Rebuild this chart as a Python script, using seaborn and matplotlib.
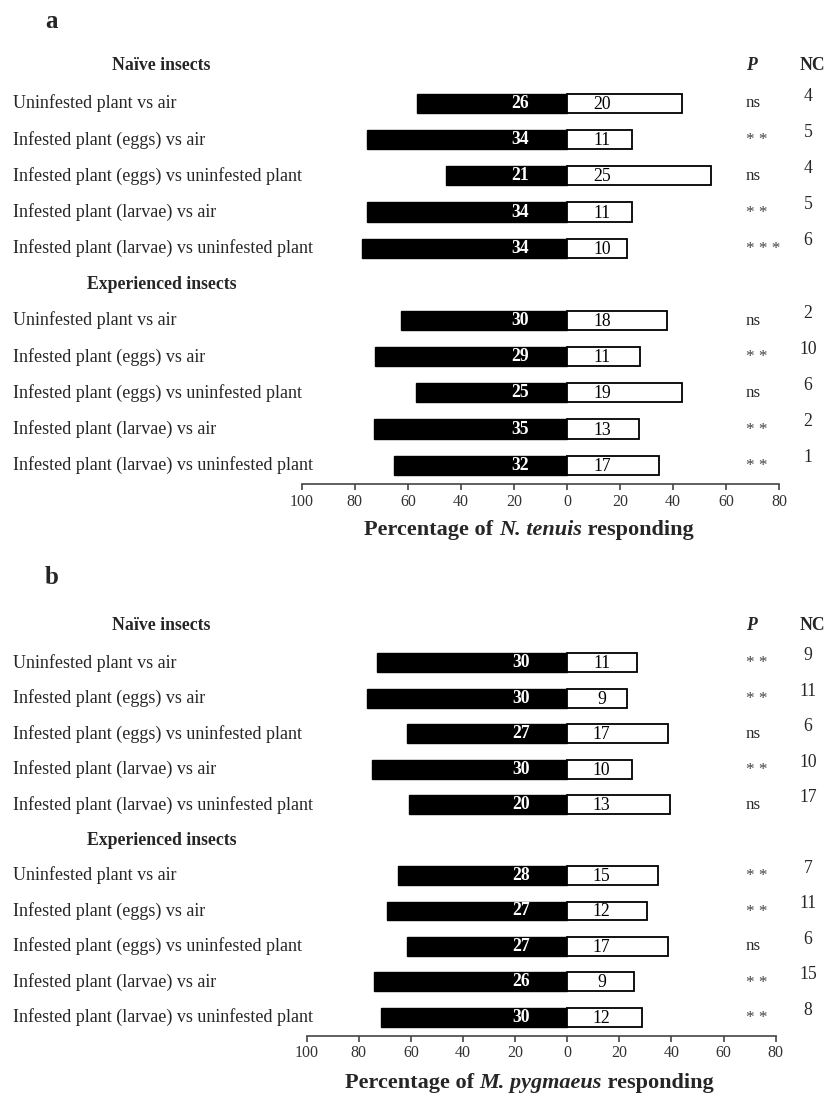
import pandas as pd
import seaborn as sns
import matplotlib.pyplot as plt

# Row labels (same for both panels)
row_labels = ['Uninfested plant vs air',
              'Infested plant (eggs) vs air',
              'Infested plant (eggs) vs uninfested plant',
              'Infested plant (larvae) vs air',
              'Infested plant (larvae) vs uninfested plant']

# Panel a: N. tenuis (counts choosing first / second odour source)
a_naive_first = [26, 34, 21, 34, 34]
a_naive_second = [20, 11, 25, 11, 10]
a_naive_p = ['ns', '**', 'ns', '**', '***']
a_naive_nc = [4, 5, 4, 5, 6]
a_exp_first = [30, 29, 25, 35, 32]
a_exp_second = [18, 11, 19, 13, 17]
a_exp_p = ['ns', '**', 'ns', '**', '**']
a_exp_nc = [2, 10, 6, 2, 1]

# Panel b: M. pygmaeus
b_naive_first = [30, 30, 27, 30, 20]
b_naive_second = [11, 9, 17, 10, 13]
b_naive_p = ['**', '**', 'ns', '**', 'ns']
b_naive_nc = [9, 11, 6, 10, 17]
b_exp_first = [28, 27, 27, 26, 30]
b_exp_second = [15, 12, 17, 9, 12]
b_exp_p = ['**', '**', 'ns', '**', '**']
b_exp_nc = [7, 11, 6, 15, 8]

xticks = [-100, -80, -60, -40, -20, 0, 20, 40, 60, 80]

sns.set_theme(style='white')
plt.rcParams['font.family'] = ['Liberation Serif', 'DejaVu Serif']

W, H = 827, 1099
fig = plt.figure(figsize=(W / 100, H / 100), dpi=100)
renderer = fig.canvas.get_renderer()

order = ['hn', 'n0', 'n1', 'n2', 'n3', 'n4', 'he', 'e0', 'e1', 'e2', 'e3', 'e4']


def make_df(nf, ns_, npv, nnc, ef, es, epv, enc):
    keys = ['n%d' % i for i in range(5)] + ['e%d' % i for i in range(5)]
    df = pd.DataFrame({'key': keys, 'first': nf + ef, 'second': ns_ + es,
                       'p': npv + epv, 'nc': nnc + enc,
                       'label': row_labels + row_labels})
    tot = df['first'] + df['second']
    df['left'] = -100 * df['first'] / tot
    df['right'] = 100 * df['second'] / tot
    df['pos'] = [order.index(k) for k in keys]
    return df


def xlabel_pieces(cx, cy, species):
    # bold label with the species name in bold italic, centred at (cx, cy) px
    parts = [('Percentage of ', 'normal'), (species, 'italic'), (' responding', 'normal')]
    texts = []
    for s, st in parts:
        t = fig.text(0, 1 - cy / H, s, ha='left', va='center', fontsize=16,
                     fontweight='bold', fontstyle=st)
        texts.append(t)
    widths = [t.get_window_extent(renderer).width for t in texts]
    x = cx - sum(widths) / 2
    for t, w in zip(texts, widths):
        t.set_x(x / W)
        x += w


def draw_panel(rect, df, letter, letter_y, species, xlabel_y):
    ax = fig.add_axes(rect)
    sns.barplot(data=df, x='left', y='key', order=order, color='black',
                saturation=1, width=0.53, edgecolor='black', linewidth=1,
                orient='h', ax=ax)
    sns.barplot(data=df, x='right', y='key', order=order, color='white',
                saturation=1, width=0.53, edgecolor='black', linewidth=1.3,
                orient='h', ax=ax)
    ax.set_xlim(-100, 80)
    ax.set_ylim(11.52, -0.5)
    ax.set_xticks(xticks)
    ax.set_xticklabels([str(abs(t)) for t in xticks], fontsize=11.5, color='#333333')
    ax.set_yticks([])
    ax.set_xlabel('')
    ax.set_ylabel('')
    for s in ['top', 'right', 'left']:
        ax.spines[s].set_visible(False)
    ax.spines['bottom'].set_color('#444444')
    ax.spines['bottom'].set_linewidth(1.2)
    ax.tick_params(axis='x', bottom=True, direction='out', length=4, width=1.2,
                   color='#444444', pad=3)

    x0 = rect[0] * W
    wpx = rect[2] * W

    def fx(px):
        return (px - x0) / wpx

    tr = ax.get_yaxis_transform()
    for _, r in df.iterrows():
        ax.text(fx(13), r['pos'], r['label'], transform=tr, ha='left', va='center',
                fontsize=13, clip_on=False)
        ax.text(-17.7, r['pos'], str(r['first']), ha='center', va='center',
                color='white', fontweight='bold', fontsize=12.7)
        ax.text(13.2, r['pos'] + 0.03, str(r['second']), ha='center', va='center',
                color='black', fontsize=12.7)
        if r['p'] == 'ns':
            ax.text(fx(746), r['pos'], r['p'], transform=tr, ha='left', va='center',
                    fontsize=12.2, clip_on=False)
        else:
            stars = ' '.join(r['p'])
            ax.text(fx(746), r['pos'] + 0.02, stars, transform=tr, ha='left',
                    va='center', fontsize=12.3, color='#444444', clip_on=False)
        ax.text(fx(808), r['pos'] - 0.2, str(r['nc']), transform=tr, ha='center',
                va='center', fontsize=12.7, clip_on=False)

    ax.text(fx(161), order.index('hn') - 0.05, 'Naïve insects', transform=tr,
            ha='center', va='center', fontsize=12.8, fontweight='bold', clip_on=False)
    ax.text(fx(162), order.index('he'), 'Experienced insects', transform=tr,
            ha='center', va='center', fontsize=12.8, fontweight='bold', clip_on=False)
    ax.text(fx(751), order.index('hn') - 0.05, 'P', transform=tr, ha='center',
            va='center', fontsize=12.7, fontweight='bold', fontstyle='italic',
            clip_on=False)
    ax.text(fx(812), order.index('hn') - 0.05, 'NC', transform=tr, ha='center',
            va='center', fontsize=12.7, fontweight='bold', clip_on=False)

    fig.text(52 / W, 1 - letter_y / H, letter, ha='center', va='center',
             fontsize=18, fontweight='bold')
    xlabel_pieces(529, xlabel_y, species)
    return ax


df_a = make_df(a_naive_first, a_naive_second, a_naive_p, a_naive_nc,
               a_exp_first, a_exp_second, a_exp_p, a_exp_nc)
df_b = make_df(b_naive_first, b_naive_second, b_naive_p, b_naive_nc,
               b_exp_first, b_exp_second, b_exp_p, b_exp_nc)

# slot sizes: panel a 36.17 px, panel b 35.45 px
ha_px = 12.02 * 36.17
hb_px = 12.02 * 35.45
draw_panel([301.7 / W, 1 - 484 / H, 477.6 / W, ha_px / H], df_a, 'a', 22, 'N. tenuis', 530)
draw_panel([306.7 / W, 1 - 1035.7 / H, 469 / W, hb_px / H], df_b, 'b', 578, 'M. pygmaeus', 1083)

plt.savefig('out.png', dpi=100)
